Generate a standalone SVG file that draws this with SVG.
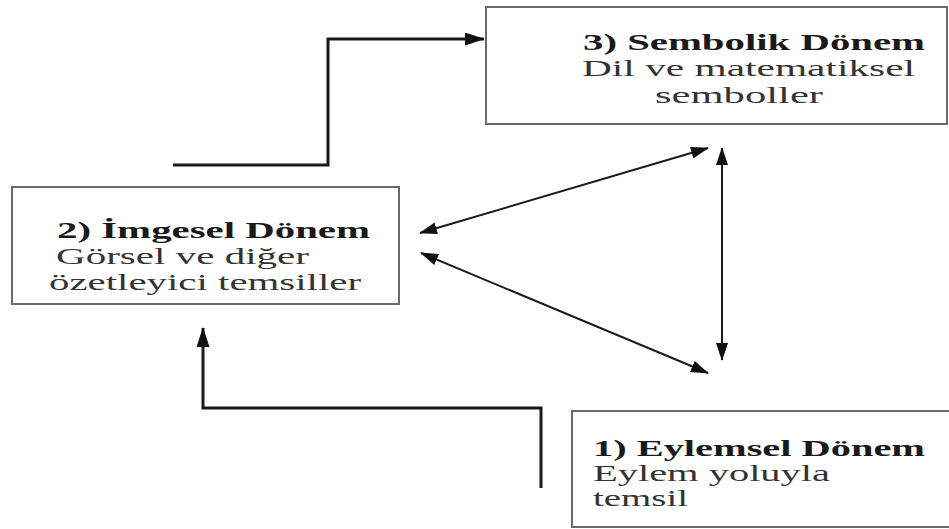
<svg xmlns="http://www.w3.org/2000/svg" width="949" height="529" viewBox="0 0 949 529">
<style>
.box{fill:#fff;stroke:#6a6a6a;stroke-width:2}
.t{font-family:"Liberation Serif","Times New Roman",serif;fill:#2a2a2a}
.b{font-weight:bold;font-size:24px;fill:#1a1a1a}
.n{font-size:23px;fill:#333}
.thick{fill:none;stroke:#1a1a1a;stroke-width:3}
.thin{fill:none;stroke:#1a1a1a;stroke-width:2}
</style>
<defs>
<marker id="ah2" markerWidth="18" markerHeight="12" refX="17" refY="6" orient="auto-start-reverse" markerUnits="userSpaceOnUse" viewBox="0 0 18 12">
<path d="M0,0 L18,6 L0,12 z" fill="#111"/>
</marker>
<marker id="ah3" markerWidth="20" markerHeight="13" refX="19" refY="6.5" orient="auto" markerUnits="userSpaceOnUse" viewBox="0 0 20 13">
<path d="M0,0 L20,6.5 L0,13 z" fill="#111"/>
</marker>
</defs>
<rect width="949" height="529" fill="#fff"/>
<g id="node3">
<rect class="box" x="486" y="7" width="461" height="117"/>
<text class="t b" x="583" y="50" textLength="342" lengthAdjust="spacingAndGlyphs">3) Sembolik Dönem</text>
<text class="t n" x="582" y="76" textLength="333" lengthAdjust="spacingAndGlyphs">Dil ve matematiksel</text>
<text class="t n" x="655" y="103" textLength="168" lengthAdjust="spacingAndGlyphs">semboller</text>
</g>
<g id="node2">
<rect class="box" x="12" y="187" width="387" height="117"/>
<text class="t b" x="57" y="238" textLength="313" lengthAdjust="spacingAndGlyphs">2) İmgesel Dönem</text>
<text class="t n" x="56" y="264" textLength="253" lengthAdjust="spacingAndGlyphs">Görsel ve diğer</text>
<text class="t n" x="49" y="290" textLength="312" lengthAdjust="spacingAndGlyphs">özetleyici temsiller</text>
</g>
<g id="node1">
<rect class="box" x="572" y="411" width="380" height="116"/>
<text class="t b" x="593" y="456" textLength="332" lengthAdjust="spacingAndGlyphs">1) Eylemsel Dönem</text>
<text class="t n" x="593" y="481" textLength="237" lengthAdjust="spacingAndGlyphs">Eylem yoluyla</text>
<text class="t n" x="593" y="506" textLength="95" lengthAdjust="spacingAndGlyphs">temsil</text>
</g>
<g id="connectors">
<path class="thick" d="M173,165 H328 V39 H484" marker-end="url(#ah3)"/>
<path class="thick" d="M541,488 V408 H203 V328" marker-end="url(#ah3)"/>
<path class="thin" d="M420,233 L708,148" marker-start="url(#ah2)" marker-end="url(#ah2)"/>
<path class="thin" d="M421,253 L708,373" marker-start="url(#ah2)" marker-end="url(#ah2)"/>
<path class="thin" d="M722,148 V360" marker-start="url(#ah2)" marker-end="url(#ah2)"/>
</g>
</svg>
